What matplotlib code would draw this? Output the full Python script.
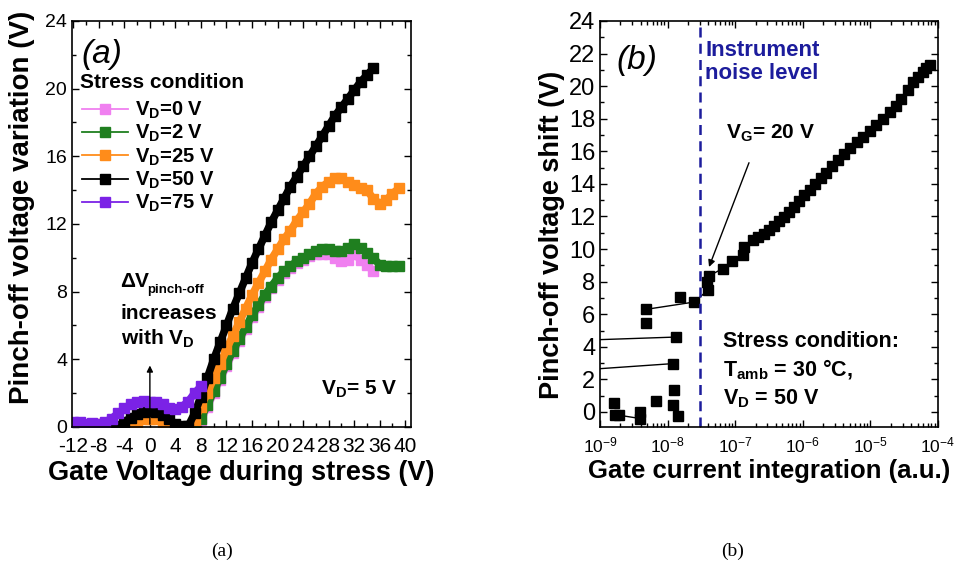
import matplotlib
matplotlib.use("Agg")
import matplotlib.pyplot as plt
import numpy as np
from matplotlib.lines import Line2D
from matplotlib.ticker import MultipleLocator, LogLocator, NullFormatter

plt.rcParams["font.family"] = ["Liberation Sans", "DejaVu Sans"]
plt.rcParams["mathtext.fontset"] = "custom"
plt.rcParams["mathtext.rm"] = "Liberation Sans"
plt.rcParams["mathtext.bf"] = "Liberation Sans:bold"
plt.rcParams["mathtext.it"] = "Liberation Sans:italic"
plt.rcParams["axes.unicode_minus"] = False

# ---- panel (a): pinch-off variation vs gate voltage during stress ----
vg_0 = list(range(7, 36))
dv_0 = [0, 0.4, 1.2, 2.0, 2.8, 3.6, 4.4, 5.1, 5.8, 6.5, 7.1, 7.7, 8.2, 8.7, 9.1,
        9.4, 9.7, 9.9, 10.1, 10.2, 10.2, 10.2, 10.0, 9.8, 9.9, 10.2, 9.9, 9.6, 9.2]

vg_2 = list(range(7, 40))
dv_2 = [0, 0.5, 1.3, 2.1, 2.9, 3.7, 4.5, 5.2, 5.9, 6.6, 7.2, 7.8, 8.3, 8.8, 9.2,
        9.5, 9.8, 10.0, 10.2, 10.4, 10.5, 10.5, 10.4, 10.4, 10.6, 10.8, 10.6, 10.3,
        10.0, 9.6, 9.5, 9.5, 9.5]

vg_25 = list(range(-12, 40))
dv_25 = [0.15, 0.1, 0.1, 0.15, 0.15, 0.1, 0.05, 0, 0, 0.1, 0.3, 0.45, 0.5, 0.45,
         0.3, 0.1, 0, 0, 0, 0.4, 1.2, 2.0, 2.9, 3.7, 4.6, 5.4, 6.2, 7.0, 7.8, 8.5,
         9.2, 9.9, 10.5, 11.1, 11.6, 12.2, 12.7, 13.2, 13.8, 14.2, 14.5, 14.7, 14.7,
         14.5, 14.3, 14.1, 14.0, 13.5, 13.2, 13.4, 13.8, 14.1]

vg_50 = list(range(-12, 36))
dv_50 = [0, 0, 0, 0, 0, 0, 0, 0.05, 0.3, 0.55, 0.75, 0.9, 0.95, 0.9, 0.7, 0.45,
         0.2, 0.05, 0.05, 0.8, 1.8, 2.9, 4.0, 5.0, 6.0, 7.0, 7.9, 8.8, 9.7, 10.5,
         11.3, 12.1, 12.8, 13.5, 14.2, 14.8, 15.4, 16.0, 16.6, 17.2, 17.8, 18.4,
         18.9, 19.4, 19.9, 20.4, 20.8, 21.2]

vg_75 = list(range(-12, 9))
dv_75 = [0.3, 0.3, 0.2, 0.25, 0.2, 0.3, 0.5, 0.8, 1.1, 1.35, 1.5, 1.55, 1.5,
         1.45, 1.35, 1.15, 1.05, 1.2, 1.5, 2.0, 2.4]

series_a = [("V$_\\mathbf{D}$=0 V", vg_0, dv_0, "#f080f0"),
            ("V$_\\mathbf{D}$=2 V", vg_2, dv_2, "#1f7f1f"),
            ("V$_\\mathbf{D}$=25 V", vg_25, dv_25, "#ff8c1a"),
            ("V$_\\mathbf{D}$=50 V", vg_50, dv_50, "#000000"),
            ("V$_\\mathbf{D}$=75 V", vg_75, dv_75, "#7b22e6")]

# ---- panel (b): pinch-off shift vs gate current integration (V_D = 50 V) ----
# measurement order, NaN = no connecting line
qg = [1e-10, 1.33e-8, np.nan,
      1e-10, 1.2e-8, np.nan,
      1.93e-9, 3.9e-9, np.nan,
      4.8e-9, 2.48e-8, 4.0e-8, 3.8e-8, 4.1e-8, 6.5e-8, 9.1e-8, 1.32e-7, 1.35e-7,
      1.86e-7, 2.19e-7, 2.63e-7, 3.16e-7, 3.72e-7, 4.47e-7, 5.25e-7, 6.31e-7,
      7.41e-7, 8.91e-7, 1.05e-6, 1.26e-6, 1.51e-6, 1.86e-6, 2.24e-6, 2.75e-6,
      3.31e-6, 4.07e-6, 5.01e-6, 6.31e-6, 7.76e-6, 9.77e-6, 1.23e-5, 1.55e-5,
      1.95e-5, 2.40e-5, 2.88e-5, 3.55e-5, 4.27e-5, 5.13e-5, 6.03e-5, 6.76e-5,
      7.59e-5]
dvp = [4.30, 4.6, np.nan,
       2.37, 2.97, np.nan,
       -0.2, -0.4, np.nan,
       6.3, 6.75, 7.5, 7.98, 8.35, 8.8, 9.27, 9.62, 10.1,
       10.54, 10.75, 10.95, 11.15, 11.4, 11.7, 11.97, 12.3,
       12.58, 12.95, 13.3, 13.65, 14.0, 14.35, 14.7, 15.1,
       15.45, 15.85, 16.2, 16.55, 16.9, 17.25, 17.6, 18.0,
       18.4, 18.8, 19.24, 19.75, 20.26, 20.55, 20.87, 21.1,
       21.28]
# isolated points below the noise level
qg_iso = [1.67e-9, 1.6e-9, 3.9e-9, 6.7e-9, 1.22e-8, 1.24e-8, 1.44e-8, 4.8e-9, 1.55e-8]
dv_iso = [-0.2, 0.58, 0.0, 0.66, 0.45, 1.37, -0.25, 5.47, 7.06]
noise_level = 3.0e-8

fig = plt.figure(figsize=(9.64, 5.69), dpi=100)
ax = fig.add_axes([0.0747, 0.2496, 0.3516, 0.7135])
bx = fig.add_axes([0.6224, 0.2496, 0.3506, 0.7135])

handles = []
for lab, x, y, c in series_a:
    # dense measurement -> overlapping squares form a thick band
    ax.plot(x, y, "-s", color=c, ms=6.5, lw=5.5, solid_joinstyle="miter")
    handles.append(Line2D([], [], color=c, marker="s", ms=7, lw=1.3, label=lab))
ax.set_xlim(-12.2, 40.9)
ax.set_ylim(0, 24)
ax.xaxis.set_major_locator(MultipleLocator(4))
ax.xaxis.set_minor_locator(MultipleLocator(2))
ax.yaxis.set_major_locator(MultipleLocator(4))
ax.yaxis.set_minor_locator(MultipleLocator(2))
ax.set_xlabel("Gate Voltage during stress (V)", fontsize=19.5, fontweight="bold", labelpad=3)
ax.set_ylabel("Pinch-off voltage variation (V)", fontsize=20, fontweight="bold")
ax.yaxis.set_label_coords(-0.11, 0.54)
ax.text(-11.0, 20.35, "Stress condition", fontsize=15, fontweight="bold", va="center")
leg = ax.legend(handles=handles, loc="upper left", bbox_to_anchor=(0.03, 0.806), frameon=False,
                handlelength=2.3, handletextpad=0.3, labelspacing=0.1,
                borderpad=0, borderaxespad=0, prop={"size": 14.5, "weight": "bold"})
ax.text(-10.8, 22.0, "(a)", fontsize=24, fontstyle="italic", va="center")
ax.text(-4.6, 8.6, "ΔV", fontsize=15, fontweight="bold", va="center")
ax.text(-0.4, 8.1, "pinch-off", fontsize=9.5, fontweight="bold", va="center")
ax.text(-4.6, 6.7, "increases", fontsize=15, fontweight="bold", va="center")
ax.text(-4.6, 5.2, "with V$_\\mathbf{D}$", fontsize=15, fontweight="bold", va="center")
ax.annotate("", xy=(0, 3.8), xytext=(0, 0),
            arrowprops=dict(arrowstyle="-|>", color="black", lw=1, mutation_scale=9))
ax.text(38.7, 2.2, "V$_\\mathbf{D}$= 5 V", fontsize=15, fontweight="bold", ha="right", va="center")

bx.plot(qg, dvp, "-s", color="black", ms=7, lw=1)
bx.plot(qg_iso, dv_iso, "s", color="black", ms=7)
bx.axvline(noise_level, color="#1c1c9c", lw=1.8, dashes=(4, 2.5))
bx.set_xscale("log")
bx.set_xlim(1e-9, 1e-4)
bx.set_ylim(-0.92, 24)
bx.yaxis.set_major_locator(MultipleLocator(2))
bx.yaxis.set_minor_locator(MultipleLocator(1))
bx.xaxis.set_major_locator(LogLocator(base=10, numticks=10))
bx.xaxis.set_minor_locator(LogLocator(base=10, subs=np.arange(2, 10), numticks=10))
bx.xaxis.set_minor_formatter(NullFormatter())
bx.set_xlabel("Gate current integration (a.u.)", fontsize=18.5, fontweight="bold", labelpad=3)
bx.set_ylabel("Pinch-off voltage shift (V)", fontsize=19.5, fontweight="bold")
bx.yaxis.set_label_coords(-0.105, 0.473)
bx.text(1.75e-9, 21.6, "(b)", fontsize=24, fontstyle="italic", va="center")
bx.text(3.6e-8, 21.5, "Instrument\nnoise level", fontsize=16, fontweight="bold",
        color="#1c1c9c", va="center", linespacing=1.15)
bx.text(3.3e-7, 17.1, "V$_\\mathbf{G}$= 20 V", fontsize=15, fontweight="bold",
        ha="center", va="center")
bx.annotate("", xy=(4.1e-8, 8.9), xytext=(1.6e-7, 15.3),
            arrowprops=dict(arrowstyle="-|>", color="black", lw=1, mutation_scale=10,
                            shrinkA=0, shrinkB=0))
bx.text(6.6e-8, 2.56, "Stress condition:\nT$_\\mathbf{amb}$ = 30 °C,\nV$_\\mathbf{D}$ = 50 V",
        fontsize=15.5, fontweight="bold", va="center", linespacing=1.3)

for a in (ax, bx):
    a.tick_params(which="both", direction="in", top=True, right=True, labelsize=14)
    a.tick_params(which="major", length=5, width=1)
    a.tick_params(which="minor", length=3, width=1)
    for s in a.spines.values():
        s.set_linewidth(1.2)
ax.tick_params(axis="x", labelsize=15, pad=7)
bx.tick_params(axis="x", labelsize=12.5, pad=6)
bx.tick_params(axis="y", labelsize=17)

fig.text(222 / 964, 1 - 551 / 569, "(a)", fontsize=14, family="Liberation Serif",
         ha="center", va="center")
fig.text(733 / 964, 1 - 551 / 569, "(b)", fontsize=14, family="Liberation Serif",
         ha="center", va="center")

fig.savefig("out.png", dpi=100)
